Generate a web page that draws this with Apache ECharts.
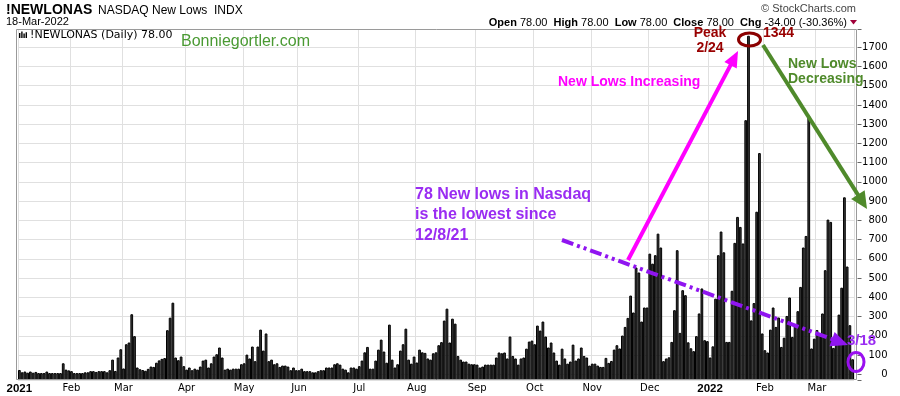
<!DOCTYPE html>
<html><head><meta charset="utf-8">
<script src="https://cdn.jsdelivr.net/npm/echarts@6/dist/echarts.min.js"></script>
<style>html,body{margin:0;padding:0;background:#fff}#c{width:900px;height:396px}</style>
</head><body><div id="c"></div>
<script>
// ---- data: daily Nasdaq new lows, one array per month ----
const monthLabels = ['2021','Feb','Mar','Apr','May','Jun','Jul','Aug','Sep','Oct','Nov','Dec','2022','Feb','Mar'];
const jan2021 = [22,10,14,8,14,8,12,6,6,6,14,6,6,6,6,6,57,24,20];
const feb2021 = [16,6,6,6,6,10,10,16,16,12,16,16,16,10,21,76,17,87,130];
const mar2021 = [30,156,165,312,198,35,26,22,18,28,40,38,60,72,80,84,229,294,372,87,73,92,42];
const apr2021 = [24,35,21,29,24,40,71,76,35,57,92,104,139,87,24,29,24,29,29,29,52];
const may2021 = [57,102,82,144,68,144,232,123,212,68,76,52,57,38,45,45,40,21,35,21];
const jun2021 = [21,29,16,16,16,10,10,16,21,21,35,35,35,52,57,50,29,24,10,35,35,29];
const jul2021 = [42,71,114,142,29,29,71,128,180,118,60,258,76,35,52,123,156,237,76,55,92];
const aug2021 = [61,128,114,111,82,76,109,114,151,167,279,341,165,289,263,95,76,66,66,55,52,52];
const sep2021 = [50,35,40,50,50,50,50,87,113,109,113,82,196,95,82,50,82,87,133,170,175];
const oct2021 = [156,253,227,274,196,139,165,113,71,50,133,82,55,66,154,71,82,139,95,87,45];
const nov2021 = [55,55,45,38,38,85,59,69,128,151,134,201,246,293,409,321,555,529,274,347,347];
const dec2021 = [627,575,619,731,659,68,82,88,168,333,645,215,437,411,166,135,120,198,316,446,177,172];
const jan2022 = [87,145,393,619,742,634,168,168,434,683,818,766,680,1321,1760,280,370,845,1150,212];
const feb2022 = [125,113,232,347,246,295,142,190,303,399,194,250,328,454,659,719,1344,134,185];
const mar2022 = [230,212,316,541,804,792,137,190,310,450,920,560,255,78];
const monthlyValues = [jan2021,feb2021,mar2021,apr2021,may2021,jun2021,jul2021,aug2021,sep2021,oct2021,nov2021,dec2021,jan2022,feb2022,mar2022];
const holidays = ['2021-01-18','2021-02-15','2021-04-02','2021-05-31','2021-07-05','2021-09-06','2021-11-25','2021-12-24','2022-01-17','2022-02-21'];
const startDate = '2021-01-04', endDate = '2022-03-18';

// ---- build trading-day categories grouped by month ----
const byMonth = {};
for (let t = Date.parse(startDate + 'T00:00:00Z'); t <= Date.parse(endDate + 'T00:00:00Z'); t += 86400000) {
  const d = new Date(t), wd = d.getUTCDay(), s = d.toISOString().slice(0,10);
  if (wd === 0 || wd === 6 || holidays.includes(s)) continue;
  const k = s.slice(0,7); (byMonth[k] = byMonth[k] || []).push(s);
}
const monthKeys = Object.keys(byMonth).sort();
const dates = [], values = [], monthStart = {};
monthKeys.forEach((k, m) => {
  const ds = byMonth[k], vs = monthlyValues[m];
  monthStart[dates.length] = monthLabels[m];
  ds.forEach((d, j) => { dates.push(d); values.push(vs[j]); });
});

const isStart = (i) => monthStart[i] !== undefined;

// ---- annotations helpers ----
function arrow(x1,y1,x2,y2,color,lw,dash,hl,hw){
  const dx=x2-x1, dy=y2-y1, L=Math.hypot(dx,dy), ux=dx/L, uy=dy/L;
  const bx=x2-ux*hl, by=y2-uy*hl, px=-uy, py=ux;
  return [
    {type:'line', z:100, silent:true, shape:{x1:x1,y1:y1,x2:bx+ux*2,y2:by+uy*2}, style:{stroke:color,lineWidth:lw,lineDash:dash||null}},
    {type:'polygon', z:101, silent:true, shape:{points:[[x2,y2],[bx+px*hw/2,by+py*hw/2],[bx-px*hw/2,by-py*hw/2]]}, style:{fill:color}}
  ];
}
function txt(x,y,text,font,fill,align){
  return {type:'text', z:100, silent:true, x:x, y:y, style:{text:text, font:font, fill:fill, textAlign:align||'left', textVerticalAlign:'middle', align:align||'left', verticalAlign:'middle'}};
}
const AR = '"Liberation Sans", Arial, sans-serif';
const DV = '"DejaVu Sans", Verdana, sans-serif';
const purple = '#9a2cf2';
const graphics = [
  {type:'rect', z:90, silent:true, shape:{x:16.5,y:29.5,width:840,height:350}, style:{fill:'none', stroke:'#9a9a9a', lineWidth:1}},
  txt(6,10,'!NEWLONAS','bold 14px '+AR,'#000'),
  txt(98,10.5,'NASDAQ New Lows  INDX','12px '+AR,'#000'),
  txt(6,22,'18-Mar-2022','11px '+AR,'#000'),
  txt(856,9,'\u00A9 StockCharts.com','11px '+AR,'#444','right'),
  {type:'text', z:100, silent:true, x:847, y:22.5, style:{text:'{b|Open} 78.00  {b|High} 78.00  {b|Low} 78.00  {b|Close} 78.00  {b|Chg} -34.00 (-30.36%)', font:'11px '+AR, fill:'#000', textAlign:'right', align:'right', textVerticalAlign:'middle', verticalAlign:'middle', rich:{b:{fontWeight:'bold', fontSize:11, fontFamily:'Liberation Sans'}}}},
  {type:'polygon', z:100, silent:true, shape:{points:[[850,20],[857,20],[853.5,24.5]]}, style:{fill:'#a0003a'}},
  {type:'rect', z:100, silent:true, shape:{x:19,y:33,width:1.4,height:5}, style:{fill:'#000'}},
  {type:'rect', z:100, silent:true, shape:{x:21.2,y:31.5,width:1.4,height:6.5}, style:{fill:'#000'}},
  {type:'rect', z:100, silent:true, shape:{x:23.4,y:33.5,width:1.4,height:4.5}, style:{fill:'#000'}},
  {type:'rect', z:100, silent:true, shape:{x:25.6,y:32.2,width:1.4,height:5.8}, style:{fill:'#000'}},
  txt(30,35,'!NEWLONAS (Daily) 78.00','11px '+DV,'#000'),
  txt(181,42,'Bonniegortler.com','16px '+AR,'#4a9a33'),
  txt(710,33,'Peak','bold 14px '+AR,'#990000','center'),
  txt(710,48,'2/24','bold 14px '+AR,'#990000','center'),
  txt(763,33,'1344','bold 14px '+AR,'#990000'),
  {type:'ellipse', z:102, silent:true, shape:{cx:749.5,cy:39.5,rx:11,ry:6.5}, style:{fill:'none', stroke:'#8b0000', lineWidth:3}},
  txt(558,82,'New Lows Increasing','bold 14px '+AR,'#ff00ff'),
  txt(788,64,'New Lows','bold 14px '+AR,'#4f8a2b'),
  txt(788,79,'Decreasing','bold 14px '+AR,'#4f8a2b'),
  txt(415,195,'78 New lows in Nasdaq','bold 16px '+AR,purple),
  txt(415,215,'is the lowest since','bold 16px '+AR,purple),
  txt(415,236,'12/8/21','bold 16px '+AR,purple),
  txt(847,341,'3/18','bold 15px '+AR,purple),
  {type:'ellipse', z:102, silent:true, shape:{cx:856,cy:362,rx:8,ry:9.5}, style:{fill:'none', stroke:'#9a10f0', lineWidth:3}}
].concat(
  arrow(628,260,738,51,'#ff00ff',4,null,16,14),
  arrow(763,45,867,209,'#4f8a2b',4,null,17,16),
  arrow(562,240,848,345,'#9015f0',4,[12,4,3,4,3,4],17,15)
);

const chart = echarts.init(document.getElementById('c'), null, {renderer:'canvas'});
chart.setOption({
  animation:false,
  grid:{left:18, right:46, top:29, bottom:16, containLabel:false, outerBoundsMode:'none'},
  xAxis:{
    type:'category', data:dates, boundaryGap:true,
    axisLine:{show:false}, axisTick:{show:false},
    axisLabel:{
      interval:(i)=>isStart(i), hideOverlap:false,
      formatter:(v,i)=>{ const l = monthStart[i]; if (l===undefined) return ''; return /^\d{4}$/.test(l) ? '{y|'+l+'}' : l; },
      fontFamily:'DejaVu Sans', fontSize:10, color:'#000', margin:3,
      rich:{y:{fontWeight:'bold', fontSize:11.5, fontFamily:'Liberation Sans', color:'#000'}}
    },
    splitLine:{show:true, interval:(i)=>isStart(i), lineStyle:{color:'#e0e0e0', width:1}}
  },
  yAxis:{
    type:'value', position:'right', min:-30, max:1795, startValue:-30,
    splitNumber:18, minInterval:100, maxInterval:100, offset:3.5,
    axisLine:{show:false},
    axisTick:{show:true, length:4, lineStyle:{color:'#666'}},
    axisLabel:{margin:30, align:'right', fontFamily:'DejaVu Sans', fontSize:10, color:'#000',
      formatter:(v)=> (v < 0 || v > 1700 || Math.round(v) % 100 !== 0) ? '' : String(Math.round(v))},
    splitLine:{show:true, lineStyle:{color:'#e0e0e0', width:1}}
  },
  series:[{
    type:'bar', data:values, barCategoryGap:'0%', barGap:'0%', silent:true,
    itemStyle:{color:'#3c3c3c', borderColor:'#000', borderWidth:1}
  }],
  graphic:{elements:graphics}
});
</script>
</body></html>
